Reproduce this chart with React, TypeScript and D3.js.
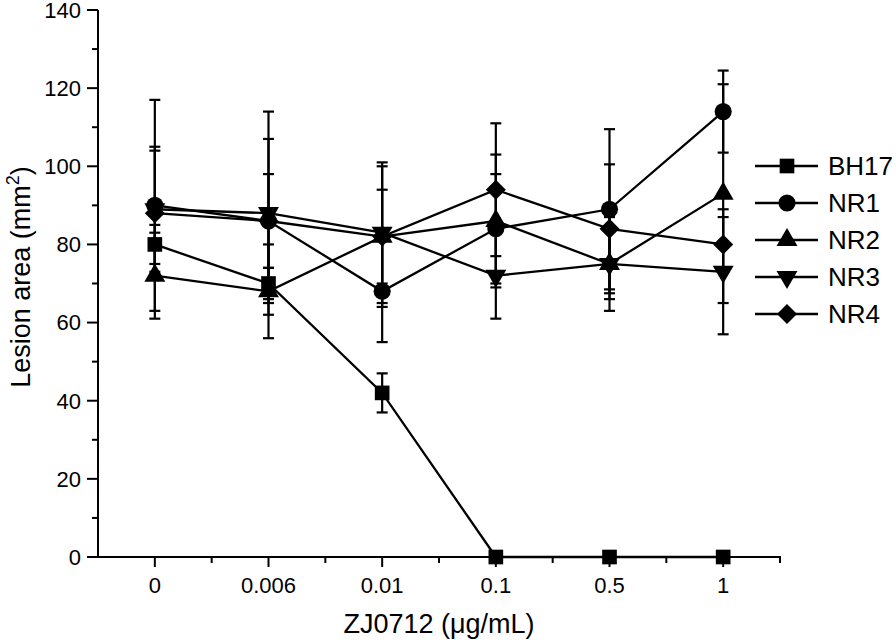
import React from "react";
import * as d3 from "d3";

const categories = ["0", "0.006", "0.01", "0.1", "0.5", "1"];
const seriesNames = ["BH17", "NR1", "NR2", "NR3", "NR4"];
const bh17 = [80, 70, 42, 0, 0, 0];
const bh17Err = [5, 4, 5, 0, 0, 0];
const nr1 = [90, 86, 68, 84, 89, 114];
const nr1Err = [27, 21, 13, 14, 20.5, 10.5];
const nr2 = [72, 68, 82, 86, 75, 93];
const nr2Err = [11, 12, 18, 17, 9, 28];
const nr3 = [89, 88, 83, 72, 75, 73];
const nr3Err = [16, 26, 18, 11, 12, 16];
const nr4 = [88, 86, 82, 94, 84, 80];
const nr4Err = [16, 12, 12, 17, 16.5, 7];
const yTicks = [0, 20, 40, 60, 80, 100, 120, 140];
const yMinorTicks = [10, 30, 50, 70, 90, 110, 130];

const W = 896;
const H = 643;
const x = d3.scalePoint<string>().domain(categories).range([98, 780]).padding(0.5);
const y = d3.scaleLinear().domain([0, 140]).range([557, 10]);

const series = [
  { name: seriesNames[0], values: bh17, err: bh17Err, shape: "square" },
  { name: seriesNames[1], values: nr1, err: nr1Err, shape: "circle" },
  { name: seriesNames[2], values: nr2, err: nr2Err, shape: "triangle" },
  { name: seriesNames[3], values: nr3, err: nr3Err, shape: "triangleDown" },
  { name: seriesNames[4], values: nr4, err: nr4Err, shape: "diamond" },
];

function symbolPath(shape: string): { d: string; rot: number } {
  switch (shape) {
    case "square":
      return { d: d3.symbol().type(d3.symbolSquare).size(215)() as string, rot: 0 };
    case "circle":
      return { d: d3.symbol().type(d3.symbolCircle).size(230)() as string, rot: 0 };
    case "triangle":
      return { d: d3.symbol().type(d3.symbolTriangle).size(190)() as string, rot: 0 };
    case "triangleDown":
      return { d: d3.symbol().type(d3.symbolTriangle).size(190)() as string, rot: 180 };
    default:
      return { d: d3.symbol().type(d3.symbolSquare).size(200)() as string, rot: 45 };
  }
}

const Marker = ({ cx, cy, shape }: { cx: number; cy: number; shape: string }) => {
  const s = symbolPath(shape);
  return <path d={s.d} transform={`translate(${cx},${cy}) rotate(${s.rot})`} fill="#000" />;
};

export default function App() {
  const line = d3
    .line<number>()
    .x((_, i) => x(categories[i]) as number)
    .y((v) => y(v));
  const step = x.step();
  const xMinor = categories.map((c) => x(c)! + step / 2);
  const font = "'Liberation Sans', Arial, sans-serif";
  const legendY = [166, 203, 240, 277, 314];

  return (
    <svg
      width={W}
      height={H}
      style={{ position: "absolute", left: 0, top: 0, background: "#fff", fontFamily: font }}
    >
      <rect width={W} height={H} fill="#fff" />
      {/* error bars */}
      {series.map((s) =>
        s.values.map((v, i) => {
          if (!s.err[i]) return null;
          const cx = x(categories[i])!;
          const y1 = y(v + s.err[i]);
          const y2 = y(v - s.err[i]);
          return (
            <g key={s.name + i} stroke="#000" strokeWidth={2.2}>
              <line x1={cx} x2={cx} y1={y1} y2={y2} />
              <line x1={cx - 5.5} x2={cx + 5.5} y1={y1} y2={y1} />
              <line x1={cx - 5.5} x2={cx + 5.5} y1={y2} y2={y2} />
            </g>
          );
        })
      )}
      {/* lines */}
      {series.map((s) => (
        <path key={s.name} d={line(s.values) as string} fill="none" stroke="#000" strokeWidth={2.3} />
      ))}
      {/* markers */}
      {series.map((s) =>
        s.values.map((v, i) => (
          <Marker key={s.name + "m" + i} cx={x(categories[i])!} cy={y(v)} shape={s.shape} />
        ))
      )}
      {/* y axis */}
      <line x1={98} x2={98} y1={y(140)} y2={y(0)} stroke="#000" strokeWidth={2} />
      {yTicks.map((t) => (
        <g key={"yt" + t}>
          <line x1={87} x2={98} y1={y(t)} y2={y(t)} stroke="#000" strokeWidth={2} />
          <text x={81} y={y(t)} dy="0.36em" textAnchor="end" fontSize={22}>
            {t}
          </text>
        </g>
      ))}
      {yMinorTicks.map((t) => (
        <line key={"ym" + t} x1={92} x2={98} y1={y(t)} y2={y(t)} stroke="#000" strokeWidth={2} />
      ))}
      {/* x axis */}
      <line x1={97} x2={781} y1={y(0)} y2={y(0)} stroke="#000" strokeWidth={2} />
      {categories.map((c) => (
        <g key={"xt" + c}>
          <line x1={x(c)} x2={x(c)} y1={y(0)} y2={y(0) + 10} stroke="#000" strokeWidth={2} />
          <text x={x(c)} y={593} textAnchor="middle" fontSize={22}>
            {c}
          </text>
        </g>
      ))}
      {xMinor.map((m, i) => (
        <line key={"xm" + i} x1={m} x2={m} y1={y(0)} y2={y(0) + 6} stroke="#000" strokeWidth={2} />
      ))}
      {/* axis titles */}
      <text x={439} y={633} textAnchor="middle" fontSize={27}>
        ZJ0712 (μg/mL)
      </text>
      <text transform="translate(30,277) rotate(-90)" textAnchor="middle" fontSize={27}>
        Lesion area (mm<tspan fontSize={18} dy={-11}>2</tspan>
        <tspan dy={11}>)</tspan>
      </text>
      {/* legend */}
      {series.map((s, i) => (
        <g key={"lg" + s.name}>
          <line x1={755} x2={818} y1={legendY[i]} y2={legendY[i]} stroke="#000" strokeWidth={2.3} />
          <Marker cx={787} cy={legendY[i]} shape={s.shape} />
          <text x={828} y={legendY[i]} dy="0.36em" fontSize={26}>
            {s.name}
          </text>
        </g>
      ))}
    </svg>
  );
}
